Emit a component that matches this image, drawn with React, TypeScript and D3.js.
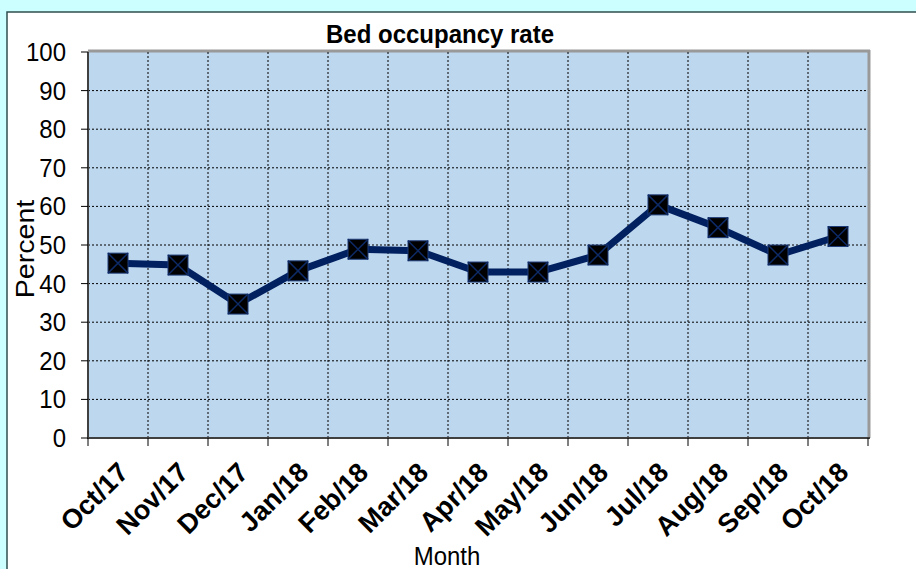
import React from 'react';
import { scaleBand, scaleLinear, line } from 'd3';

// chart values
const months = [
  'Oct/17', 'Nov/17', 'Dec/17', 'Jan/18', 'Feb/18', 'Mar/18', 'Apr/18',
  'May/18', 'Jun/18', 'Jul/18', 'Aug/18', 'Sep/18', 'Oct/18',
];
const occupancy = [45.3, 44.8, 34.7, 43.3, 48.9, 48.5, 43.0, 43.0, 47.4, 60.4, 54.5, 47.4, 52.2];
const yTicks = [0, 10, 20, 30, 40, 50, 60, 70, 80, 90, 100];

const width = 916;
const height = 569;
const plot = { left: 88, top: 52, right: 868, bottom: 438 };
const font = 'Liberation Sans, Arial, sans-serif';

const App = () => {
  const xScale = scaleBand<string>()
    .domain(months)
    .range([plot.left, plot.right])
    .paddingInner(0)
    .paddingOuter(0);
  const yScale = scaleLinear().domain([0, 100]).range([plot.bottom, plot.top]);
  const cx = (m: string) => (xScale(m) as number) + xScale.bandwidth() / 2;

  const points = months.map((m, i) => [cx(m), yScale(occupancy[i])] as [number, number]);
  const path = line()(points) || '';

  // band edges for vertical grid and tick marks
  const edges = months.map((m) => xScale(m) as number).concat(plot.right);

  return (
    <svg width={width} height={height} style={{ position: 'absolute', left: 0, top: 0 }}>
      <rect x={0} y={0} width={width} height={height} fill="#ccffff" />
      <rect x={7} y={12} width={width} height={height} fill="#ffffff" stroke="#2f4f4f" strokeWidth={1.5} />

      <text transform="translate(440,43) scale(1,1.05)" textAnchor="middle" fontFamily={font} fontWeight="bold" fontSize={24}>
        Bed occupancy rate
      </text>

      {/* plot area */}
      <rect x={plot.left} y={plot.top} width={plot.right - plot.left} height={plot.bottom - plot.top} fill="#bdd7ee" />
      <line x1={plot.left} x2={plot.right + 2} y1={plot.top - 1} y2={plot.top - 1} stroke="#999999" strokeWidth={3} />
      <line x1={plot.right + 1} x2={plot.right + 1} y1={plot.top - 2} y2={plot.bottom} stroke="#999999" strokeWidth={3} />

      {/* grid */}
      {yTicks.slice(1, -1).map((t) => (
        <line key={'h' + t} x1={plot.left} x2={plot.right} y1={yScale(t)} y2={yScale(t)}
          stroke="#000" strokeWidth={1} strokeDasharray="2,2" />
      ))}
      {edges.slice(1, -1).map((x) => (
        <line key={'v' + x} x1={x} x2={x} y1={plot.top} y2={plot.bottom}
          stroke="#000" strokeWidth={1} strokeDasharray="2,2" />
      ))}

      {/* axes */}
      <line x1={plot.left} x2={plot.left} y1={plot.top} y2={plot.bottom} stroke="#404040" strokeWidth={2} />
      <line x1={plot.left - 1} x2={plot.right + 2} y1={plot.bottom} y2={plot.bottom} stroke="#404040" strokeWidth={2} />
      {yTicks.map((t) => (
        <g key={'yt' + t}>
          <line x1={plot.left - 7} x2={plot.left} y1={yScale(t)} y2={yScale(t)} stroke="#000" strokeWidth={1} />
          <text transform={`translate(66,${yScale(t) + 9}) scale(1,1.1)`} textAnchor="end" fontFamily={font} fontSize={24}>{t}</text>
        </g>
      ))}
      {edges.map((x) => (
        <line key={'xt' + x} x1={x} x2={x} y1={plot.bottom} y2={plot.bottom + 8} stroke="#000" strokeWidth={1} />
      ))}
      {months.map((m) => (
        <text key={'xl' + m} transform={`translate(${cx(m) + 12},${plot.bottom + 36}) rotate(-45)`}
          textAnchor="end" fontFamily={font} fontWeight="bold" fontSize={27}>
          {m}
        </text>
      ))}

      <text transform={`translate(34,${249}) rotate(-90) scale(1.1,1)`} textAnchor="middle" fontFamily={font} fontSize={26}>
        Percent
      </text>
      <text transform="translate(447,565) scale(1,1.08)" textAnchor="middle" fontFamily={font} fontSize={24}>Month</text>

      {/* series */}
      <path d={path} fill="none" stroke="#002060" strokeWidth={7} strokeLinejoin="round" />
      {points.map(([x, y], i) => (
        <g key={'pt' + i}>
          <rect x={x - 10} y={y - 10} width={20} height={20} fill="#000" stroke="#1f3d7a" strokeWidth={1} />
          <line x1={x - 10} y1={y - 10} x2={x + 10} y2={y + 10} stroke="#0d2a66" strokeWidth={1.5} />
          <line x1={x - 10} y1={y + 10} x2={x + 10} y2={y - 10} stroke="#0d2a66" strokeWidth={1.5} />
        </g>
      ))}
    </svg>
  );
};

export default App;
